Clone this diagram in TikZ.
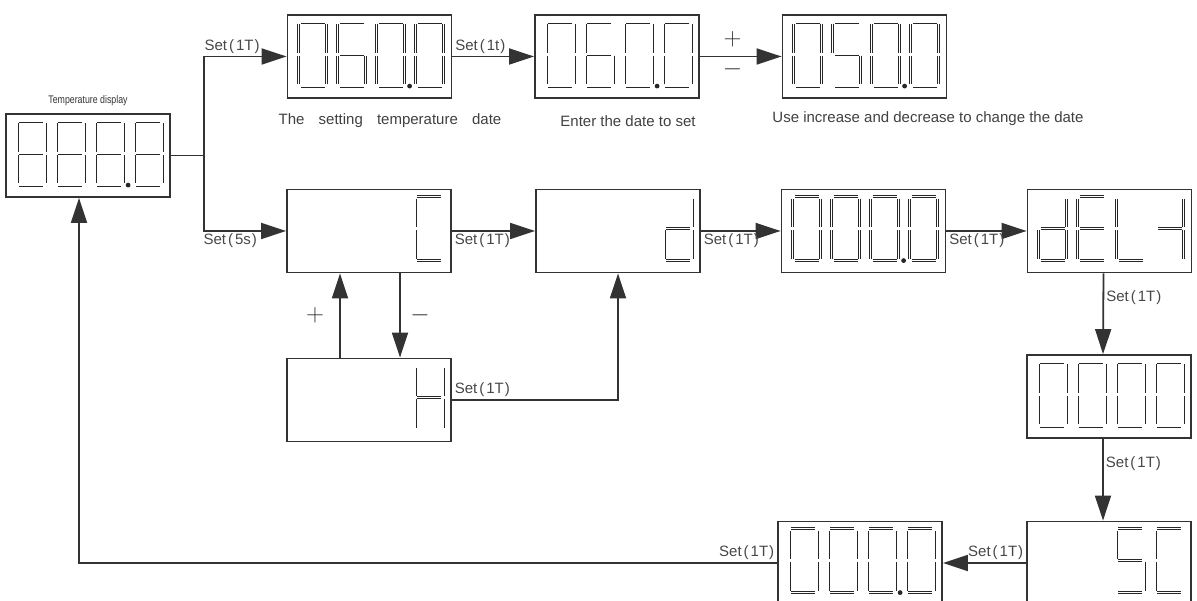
\documentclass[tikz,border=0pt]{standalone}
\usepackage{fontspec}
\setmainfont{Liberation Sans}
\usepackage{tikz}
\usetikzlibrary{positioning}
\usetikzlibrary{arrows.meta}
\usetikzlibrary{calc}

% segments of one digit cell (28 x 64)
\def\sga{(2,0) -- (26,0)}
\def\sgb{(28,2) -- (28,30.5)}
\def\sgc{(28,33.5) -- (28,62)}
\def\sgd{(2,64) -- (26,64)}
\def\sge{(0,33.5) -- (0,62)}
\def\sgf{(0,2) -- (0,30.5)}
\def\sgg{(2,32) -- (26,32)}

\def\chzero{a,b,c,d,e,f}
\def\chsix{a,c,d,e,f,g}
\def\chfive{a,c,d,f,g}
\def\cheight{a,b,c,d,e,f,g}
\def\chC{a,d,e,f}
\def\chd{b,c,d,e,g}
\def\chH{b,c,e,f,g}
\def\chE{a,d,e,f,g}
\def\chL{d,e,f}
\def\chT{b,c,g}
\def\chS{a,c,d,f,g}

\newcommand{\segdisp}[2]{%
  \foreach \slot/\chr in {#2} {%
    \edef\seglist{\csname ch\chr\endcsname}%
    \foreach \s in \seglist {%
      \edef\segpath{\csname sg\s\endcsname}%
      \draw[seg, shift={($(#1.north west)+(12+39*\slot,8)$)}] \segpath;
    }%
  }%
}
\newcommand{\segdot}[1]{\fill[black!85] ($(#1.north west)+(12+39*2+33,8+64)$) circle (2.4);}
\newcommand{\setlbl}[1]{Set\kern2pt(\kern2pt#1\kern1pt)}

\begin{document}
\begin{tikzpicture}[x=1pt, y=-1pt,
    disp/.style={draw=black!80, line width=1.8pt, minimum width=164pt, minimum height=83pt, inner sep=0pt},
    seg/.style={draw=black!85, double=white, double distance=1.3pt, line width=0.85pt},
    arr/.style={draw=black!80, line width=1.8pt, -{Triangle[length=25pt, width=16pt]}},
    lnk/.style={draw=black!80, line width=1.8pt},
    lbl/.style={font=\fontsize{15}{17}\selectfont, text=black!72, inner sep=2pt},
    captxt/.style={font=\fontsize{15}{18}\selectfont, text=black!75},
    pm/.style={font=\fontsize{25}{27}\selectfont, text=black!80}
  ]
  \useasboundingbox (0,0) rectangle (1197,601);
  \clip (0,0) rectangle (1197,601);

  % displays
  \node[disp] (temp) at (88,155.5) {};
  \node[text=black!80, font=\fontsize{11}{12}\selectfont] (templbl) at (88,101) {\scalebox{0.8}[1]{Temperature display}};
  \node[disp] (set1) at (369.5,56.5) {};
  \node[disp] (set2) at (617,56.5) {};
  \node[disp] (set3) at (864.5,56.5) {};
  \node[disp] (mC) at (369,231) {};
  \node[disp] (md) at (618,231) {};
  \node[disp] (mzero) at (863.5,231) {};
  \node[disp] (mdel) at (1109.5,231) {};
  \node[disp] (mH) at (369,400) {};
  \node[disp] (rzero) at (1109,396.5) {};
  \node[disp] (rsc) at (1109,563) {};
  \node[disp] (bzero) at (860,563) {};

  \node[captxt] (cap1) at (390,121) {The \hspace{10pt}setting \hspace{10pt}temperature \hspace{10pt}date};
  \node[captxt] (cap2) at (628,121) {Enter the date to set};
  \node[captxt] (cap3) at (928,119) {Use increase and decrease to change the date};

  \segdisp{temp}{0/eight,1/eight,2/eight,3/eight} \segdot{temp}
  \segdisp{set1}{0/zero,1/six,2/zero,3/zero} \segdot{set1}
  \segdisp{set2}{0/zero,1/six,2/zero,3/zero} \segdot{set2}
  \segdisp{set3}{0/zero,1/five,2/zero,3/zero} \segdot{set3}
  \segdisp{mC}{3/C}
  \segdisp{md}{3/d}
  \segdisp{mzero}{0/zero,1/zero,2/zero,3/zero} \segdot{mzero}
  \segdisp{mdel}{0/d,1/E,2/L,3/T}
  \segdisp{mH}{3/H}
  \segdisp{rzero}{0/zero,1/zero,2/zero,3/zero}
  \segdisp{rsc}{2/S,3/C}
  \segdisp{bzero}{0/zero,1/zero,2/zero,3/zero} \segdot{bzero}

  % connectors
  \coordinate (split) at (204,155.5);
  \draw[lnk] (temp.east) -- (split);
  \draw[arr] (split) |- node[lbl, pos=0.67, above]{\setlbl{1T}} (set1.west);
  \draw[arr] (split) |- node[lbl, pos=0.66, below]{\setlbl{5s}} (mC.west);
  \draw[arr] (set1) -- node[lbl, pos=0, anchor=south west]{\setlbl{1t}} (set2);
  \draw[arr] (set2) -- node[pm, pos=0.4, yshift=17pt]{$+$} node[pm, pos=0.4, yshift=-13pt]{$-$} (set3);

  \draw[arr] (mC) -- node[lbl, pos=0, anchor=north west]{\setlbl{1T}} (md);
  \draw[arr] (md) -- node[lbl, pos=0, anchor=north west]{\setlbl{1T}} (mzero);
  \draw[arr] (mzero) -- node[lbl, pos=0, anchor=north west]{\setlbl{1T}} (mdel);
  \draw[arr] ([xshift=-29pt]mH.north) -- node[pm, xshift=-25pt]{$+$} ([xshift=-29pt]mC.south);
  \draw[arr] ([xshift=31pt]mC.south) -- node[pm, xshift=20pt]{$-$} ([xshift=31pt]mH.north);
  \draw[arr] (mH.east) -| node[lbl, pos=0, anchor=south west]{\setlbl{1T}} (md.south);

  \draw[arr] ([xshift=-6pt]mdel.south) -- node[lbl, pos=0.3, anchor=west]{\setlbl{1T}} ([xshift=-6pt]rzero.north);
  \draw[arr] ([xshift=-6pt]rzero.south) -- node[lbl, pos=0.3, anchor=west]{\setlbl{1T}} ([xshift=-6pt]rsc.north);
  \draw[arr] (rsc) -- node[lbl, pos=0, anchor=south east]{\setlbl{1T}} (bzero);
  \draw[arr] (bzero.west) -| node[lbl, pos=0, anchor=south east]{\setlbl{1T}} ([xshift=-9pt]temp.south);
\end{tikzpicture}
\end{document}
